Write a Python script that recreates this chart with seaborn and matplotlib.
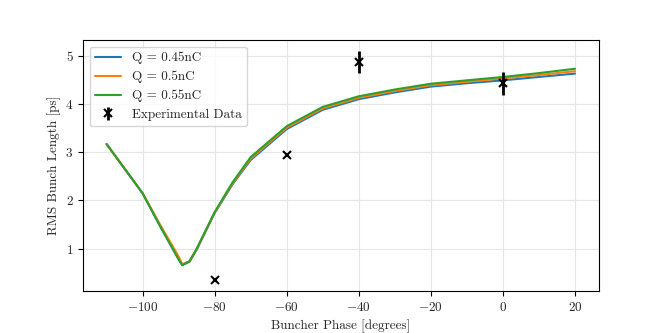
import matplotlib
matplotlib.use('Agg')
import matplotlib.pyplot as plt
import pandas as pd
import seaborn as sns

# Simulated bunch length vs buncher phase
phase = [-110, -100, -95, -90, -89, -87, -85, -80, -75, -70, -60,
         -50, -40, -30, -20, -10, 0, 10, 20]
q045 = [3.17, 2.15, 1.45, 0.78, 0.66, 0.73, 0.98, 1.74, 2.34, 2.84, 3.48,
        3.88, 4.10, 4.24, 4.36, 4.43, 4.49, 4.56, 4.63]
q050 = [3.17, 2.15, 1.48, 0.84, 0.68, 0.74, 0.99, 1.75, 2.36, 2.87, 3.51,
        3.91, 4.13, 4.27, 4.39, 4.46, 4.53, 4.60, 4.68]
q055 = [3.17, 2.15, 1.45, 0.78, 0.66, 0.74, 1.00, 1.76, 2.38, 2.90, 3.54,
        3.94, 4.16, 4.30, 4.42, 4.49, 4.56, 4.64, 4.73]
labels = ['Q = 0.45nC', 'Q = 0.5nC', 'Q = 0.55nC']

# Experimental data
exp_phase = [-80, -60, -40, 0]
exp_len = [0.36, 2.94, 4.87, 4.43]
exp_err = [0.0, 0.0, 0.22, 0.24]

df = pd.DataFrame({
    'phase': phase * 3,
    'length': q045 + q050 + q055,
    'charge': [labels[0]] * len(phase) + [labels[1]] * len(phase) + [labels[2]] * len(phase),
})

sns.set_style('ticks', {'axes.grid': True, 'grid.color': '#e6e6e6'})
plt.rcParams['font.family'] = ['cmr10', 'DejaVu Serif']
plt.rcParams['mathtext.fontset'] = 'cm'
plt.rcParams['axes.formatter.use_mathtext'] = True
plt.rcParams['axes.unicode_minus'] = True

fs = 9.5
fig, axis = plt.subplots(figsize=(6.65, 3.33), dpi=100)
fig.subplots_adjust(left=0.125, right=0.9, bottom=0.126, top=0.88)

sns.lineplot(data=df, x='phase', y='length', hue='charge',
             palette=['#1f77b4', '#ff7f0e', '#2ca02c'], linewidth=1.5, ax=axis)
axis.errorbar(exp_phase, exp_len, yerr=exp_err, fmt='x', color='black',
              markersize=6, elinewidth=2, markeredgewidth=1.5,
              label='Experimental Data')

axis.set_xlabel('Buncher Phase [degrees]', fontsize=fs)
axis.set_ylabel('RMS Bunch Length [ps]', fontsize=fs, labelpad=3)
axis.tick_params(labelsize=fs, direction='out', length=3.5, color='black')
for s in axis.spines.values():
    s.set_color('black')
    s.set_linewidth(0.8)
axis.grid(True, color='#e6e6e6', linewidth=0.8)

axis.legend(loc='upper left', fontsize=fs, frameon=True, fancybox=True,
            framealpha=0.8, edgecolor='#cccccc', title=None)

fig.savefig('out.png', dpi=100)
